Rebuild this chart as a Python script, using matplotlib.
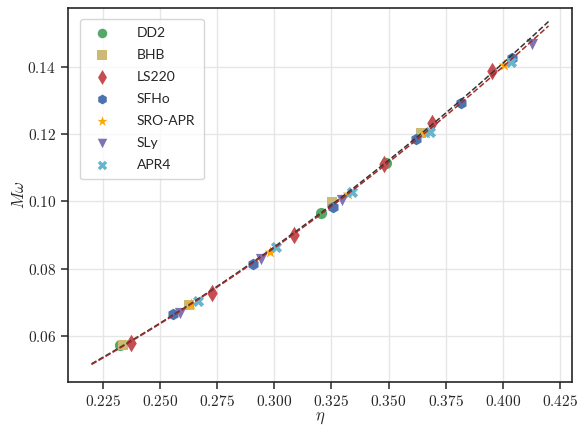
import numpy as np
import matplotlib
matplotlib.use("Agg")
import matplotlib.pyplot as plt
from matplotlib.ticker import FuncFormatter, MultipleLocator

plt.rcParams["mathtext.fontset"] = "cm"
plt.rcParams["font.family"] = ["Lato", "DejaVu Sans"]

# Symmetric mass ratio (eta) and dimensionless frequency (M*omega) per EOS
eos_names = ["DD2", "BHB", "LS220", "SFHo", "SRO-APR", "SLy", "APR4"]

dd2_eta = [0.2323, 0.3204, 0.3488]
dd2_mw = [0.0573, 0.0966, 0.1115]

bhb_eta = [0.2336, 0.2628, 0.3252, 0.3641]
bhb_mw = [0.0573, 0.0692, 0.0999, 0.1204]

ls220_eta = [0.2375, 0.2726, 0.3084, 0.3481, 0.3690, 0.3952]
ls220_mw = [0.0579, 0.0728, 0.0900, 0.1112, 0.1234, 0.1388]

sfho_eta = [0.2555, 0.2908, 0.3257, 0.3619, 0.3815, 0.4042]
sfho_mw = [0.0665, 0.0814, 0.0984, 0.1186, 0.1293, 0.1427]

sroapr_eta = [0.2637, 0.2982, 0.3322, 0.3662, 0.4007]
sroapr_mw = [0.0695, 0.0850, 0.1022, 0.1204, 0.1406]

sly_eta = [0.2586, 0.2940, 0.3298, 0.4127]
sly_mw = [0.0668, 0.0829, 0.1004, 0.1468]

apr4_eta = [0.2664, 0.3009, 0.3341, 0.3681, 0.4034]
apr4_mw = [0.0704, 0.0865, 0.1028, 0.1207, 0.1415]

# Quadratic fit models in (eta - 0.32): [c2, c1, c0]
fit_eta_range = [0.22, 0.42]
fit_center = 0.32
fit_black = [0.62, 0.509, 0.0964]
fit_red = [0.585, 0.5035, 0.0960]

series = [
    (dd2_eta, dd2_mw, "o", "#55A868", 65),
    (bhb_eta, bhb_mw, "s", "#CCB974", 60),
    (ls220_eta, ls220_mw, "d", "#C44E52", 80),
    (sfho_eta, sfho_mw, "h", "#4C72B0", 70),
    (sroapr_eta, sroapr_mw, "*", "#FFA500", 80),
    (sly_eta, sly_mw, "v", "#8172B2", 65),
    (apr4_eta, apr4_mw, "X", "#64B5CD", 65),
]

fig = plt.figure(figsize=(5.79, 4.26), dpi=100)
ax = fig.add_axes([0.1174, 0.1033, 0.8706, 0.8777])

for (eta, mw, mk, col, sz), name in zip(series, eos_names):
    ax.scatter(eta, mw, marker=mk, color=col, s=sz, linewidths=0, label=name, zorder=3)

eta_grid = np.linspace(fit_eta_range[0], fit_eta_range[1], 200)
ax.plot(eta_grid, np.polyval(fit_black, eta_grid - fit_center), ls="--",
        color="#333333", lw=1.1, zorder=4)
ax.plot(eta_grid, np.polyval(fit_red, eta_grid - fit_center), ls="--",
        color="#A52A2A", lw=1.1, zorder=4)

ax.set_xlim(0.2097, 0.4303)
ax.set_ylim(0.0463, 0.1575)
ax.xaxis.set_major_locator(MultipleLocator(0.025))
ax.yaxis.set_major_locator(MultipleLocator(0.02))
ax.xaxis.set_major_formatter(FuncFormatter(lambda v, p: r"$%.3f$" % v))
ax.yaxis.set_major_formatter(FuncFormatter(lambda v, p: r"$%.2f$" % v))
ax.tick_params(direction="out", length=5, width=1.1, labelsize=11, colors="#262626")
ax.grid(True, color="#e6e6e6", lw=1.0, zorder=0)
ax.set_axisbelow(True)
for sp in ax.spines.values():
    sp.set_color("#262626")
    sp.set_linewidth(1.2)

ax.set_xlabel(r"$\eta$", fontsize=12, color="#262626", labelpad=1)
ax.set_ylabel(r"$M\omega$", fontsize=12, color="#262626", labelpad=0)

leg = ax.legend(loc="upper left", fontsize=10, frameon=True, fancybox=True,
                borderpad=0.6, labelspacing=0.72, handletextpad=1.5,
                markerscale=0.85, bbox_to_anchor=(0.01, 0.99))
leg.get_frame().set_edgecolor("#cccccc")
for t in leg.get_texts():
    t.set_color("#262626")

fig.savefig("out.png", dpi=100)
